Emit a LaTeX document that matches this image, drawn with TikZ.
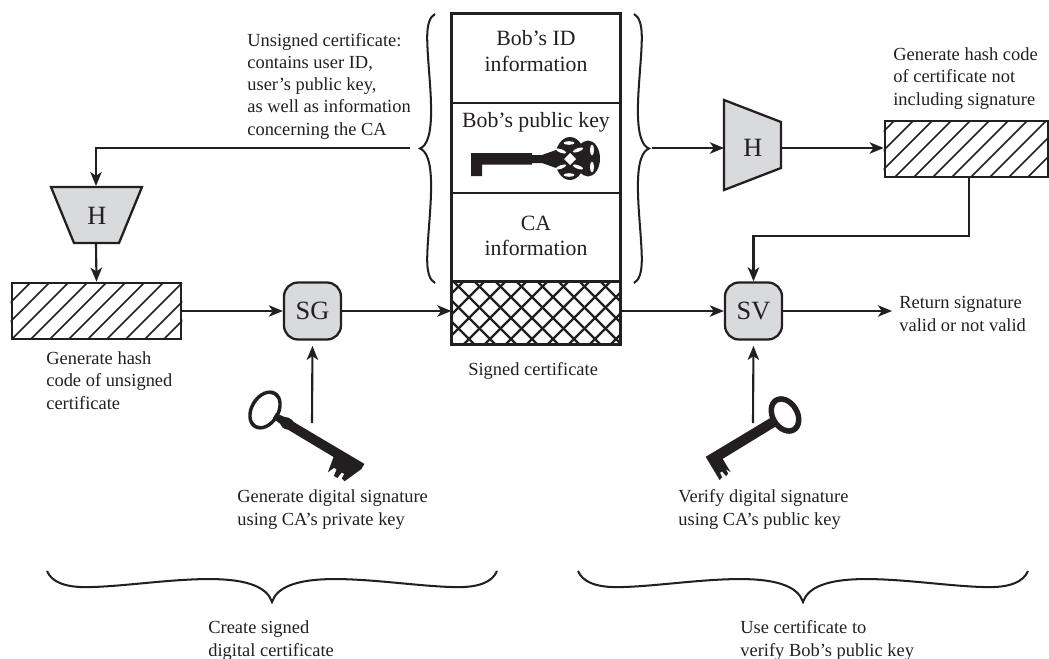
\documentclass[tikz,border=0pt]{standalone}
\usepackage{fontspec}
\setmainfont{Liberation Serif}
\usetikzlibrary{calc}
\usetikzlibrary{arrows.meta}
\definecolor{ink}{HTML}{231F20}
\definecolor{boxgray}{HTML}{D9DADC}
\tikzset{
  conn/.style={draw=ink,line width=1.2pt,-{Stealth[length=8pt,width=6.5pt,inset=2.2pt]}},
  lbl/.style={inner sep=0,anchor=base west,align=left,text=ink,font=\fontsize{10.5}{12.6}\selectfont},
  biglbl/.style={inner sep=0,align=center,text=ink,font=\fontsize{12.4}{14.6}\selectfont},
  opnode/.style={draw=ink,line width=1.3pt,fill=boxgray,rounded corners=8pt,minimum width=57*0.02cm,minimum height=57*0.02cm,inner sep=0,text=ink,font=\fontsize{15}{15}\selectfont},
  hashbox/.style={draw=ink,line width=1.5pt,minimum width=#1*0.02cm,minimum height=56*0.02cm,inner sep=0},
  certbox/.style={draw=ink,line width=0.8pt,minimum width=168*0.02cm,minimum height=#1*0.02cm,inner sep=0},
  funnel/.style={draw=ink,line width=1.3pt,fill=boxgray,line join=miter},
  hline/.style={ink,line width=0.9pt},
  xline/.style={ink,line width=1.3pt},
  brc/.style={ink,line width=1.15pt},
}
\newcommand{\curly}[1]{\draw[brc,#1] (-1,0) .. controls (-.98,.35) and (-.92,.52) .. (-.83,.52) .. controls (-.68,.52) and (-.46,.26) .. (-.28,.26) .. controls (-.1,.26) and (-.02,.55) .. (0,1) .. controls (.02,.55) and (.1,.26) .. (.28,.26) .. controls (.46,.26) and (.68,.52) .. (.83,.52) .. controls (.92,.52) and (.98,.35) .. (1,0);}
\begin{document}
\begin{tikzpicture}[x=0.02cm,y=-0.02cm]
\useasboundingbox (0,0) rectangle (1049,659);
% certificate column
\node[certbox=89] (idbox) at (536,58.5) {};
\node[certbox=90] (keybox) at (536,148) {};
\node[certbox=89] (cabox) at (536,237.5) {};
\node[certbox=62] (sigbox) at (536,313) {};
\begin{scope}
\clip (sigbox.south west) rectangle (sigbox.north east);
\foreach \s in {380,401,...,640} {
  \draw[xline] (\s,344)--({\s+62},282);
  \draw[xline] ({\s-10},282)--({\s+52},344);
}
\end{scope}
\draw[ink,line width=1.5pt] (cabox.south west)--(idbox.north west)--(idbox.north east)--(cabox.south east);
\draw[ink,line width=1.6pt] (sigbox.north west) rectangle (sigbox.south east);
\node[biglbl] (idtext) at (536,51) {Bob’s ID\\information};
\node[biglbl] (keytext) at (536,122) {Bob’s public key};
\node[biglbl] (catext) at (536,236) {CA\\information};
\node[lbl] (sigtext) at (468,375) {Signed certificate};
% ornate key
\fill[ink] (471,153) rectangle (532,164.5) (471,153) rectangle (482,176);
\fill[ink] (532,155) rectangle (542,163) (542,155)--(556,150)--(556,168)--(542,163)--cycle;
\fill[ink] (570,158.5) ellipse (15 and 21.5) (588,158.5) ellipse (12 and 18);
\foreach \cx/\cy/\rot in {569/143/0,561/151/-20,578/150/20,561/167/20,578/167/-20,569/175/0} {
  \fill[white,rotate around={\rot:(\cx,\cy)}] (\cx,\cy) ellipse (5.5 and 1.8);
}
\fill[white] (592,150) ellipse (2 and 5.5) (592,167) ellipse (2 and 5.5);
\fill[white] (570,153)--(576,159)--(570,165)--(564,159)--cycle;
% left branch
\coordinate (ubrc) at (410,148);
\coordinate (hltop) at (96,186);
\coordinate (hlbot) at (96,244);
\filldraw[funnel] (51,187)--(142,187)--(119,243)--(74,243)--cycle;
\node[text=ink,font=\fontsize{15}{15}\selectfont,inner sep=0] (hleft) at (97,216) {H};
\node[hashbox=169] (hashL) at (96.5,311) {};
\begin{scope}
\clip (hashL.south west) rectangle (hashL.north east);
\foreach \s in {-26,-7,...,180} \draw[hline] (\s,339)--({\s+56},283);
\end{scope}
\node[opnode] (sgnode) at (312.5,311) {SG};
\coordinate (privtip) at (312,423);
\draw[conn] (ubrc) -| (hltop);
\draw[conn] (hlbot)--(hashL.north);
\draw[conn] (hashL.east)--(sgnode.west);
\draw[conn] (sgnode.east)--(sgnode.east -| sigbox.west);
\draw[conn,shorten >=3pt] (privtip)--(sgnode.south);
% private key
\begin{scope}[shift={(265,410)},rotate=-31]
\fill[ink,even odd rule] (0,0) ellipse (15 and 21) (0,0) ellipse (11.5 and 17.5);
\fill[ink] (11,-3)--(20,-4)--(24,-5.5)--(28,-5.5)--(31,-4.5)--(113,-5)--(113,1)--(105,20)--(101,19)--(101,14)--(98,14)--(97,21)--(93,21)--(92,14)--(89,14)--(86,21)--(83,5)--(30,5)--(27,6)--(24,6)--(20,4)--(11,3)--cycle;
\end{scope}
% right branch
\coordinate (rbrc) at (652,148);
\coordinate (hrleft) at (724,148);
\coordinate (hrright) at (781,148);
\filldraw[funnel] (724,100)--(781,122)--(781,168)--(724,190)--cycle;
\node[text=ink,font=\fontsize{15}{15}\selectfont,inner sep=0] (hright) at (753,148) {H};
\node[hashbox=163] (hashR) at (966.5,149) {};
\begin{scope}
\clip (hashR.south west) rectangle (hashR.north east);
\foreach \s in {838,857,...,1049} \draw[hline] (\s,177)--({\s+56},121);
\end{scope}
\node[opnode] (svnode) at (753.5,311) {SV};
\coordinate (hashout) at (969,177);
\coordinate (hashturn) at (969,236);
\coordinate (pubtip) at (753,423);
\coordinate (retend) at (892,311);
\draw[conn] (rbrc)--(hrleft);
\draw[conn] (hrright)--(hrright -| hashR.west);
\draw[conn] (svnode.west -| sigbox.east)--(svnode.west);
\draw[conn] (hashout)--(hashturn) -| (svnode.north);
\draw[conn,shorten >=3pt] (pubtip)--(svnode.south);
\draw[conn] (svnode.east)--(retend);
% public key
\begin{scope}[shift={(785,415)},rotate=31,xscale=-1]
\fill[ink,even odd rule] (0,0) ellipse (15 and 20) (0,0) ellipse (9.5 and 14.5);
\fill[ink] (11,-5)--(89.5,-5)--(89.5,22)--(86,21)--(85.5,16)--(83,16)--(82,22)--(79,21)--(78.5,16)--(76,21)--(76,5.5)--(11,5)--cycle;
\end{scope}
% braces
\curly{shift={(435,148.5)},rotate=-90,xscale=134.5,yscale=15}
\curly{shift={(634,148.5)},rotate=90,xscale=134.5,yscale=15}
\curly{shift={(272,571)},xscale=225,yscale=31}
\curly{shift={(803,571)},xscale=225,yscale=31}
% labels
\node[lbl] (unsigned) at (247,135) {Unsigned certificate:\\contains user ID,\\user’s public key,\\as well as information\\concerning the CA};
\node[lbl] (hashrtext) at (893,105) {Generate hash code\\of certificate not\\including signature};
\node[lbl] (hashltext) at (46,409) {Generate hash\\code of unsigned\\certificate};
\node[lbl] (gensig) at (237,525) {Generate digital signature\\using CA’s private key};
\node[lbl] (versig) at (678,525) {Verify digital signature\\using CA’s public key};
\node[lbl] (rettext) at (899,331) {Return signature\\valid or not valid};
\node[lbl] (createtext) at (208,656) {Create signed\\digital certificate};
\node[lbl] (usetext) at (740,656) {Use certificate to\\verify Bob’s public key};
\end{tikzpicture}
\end{document}
